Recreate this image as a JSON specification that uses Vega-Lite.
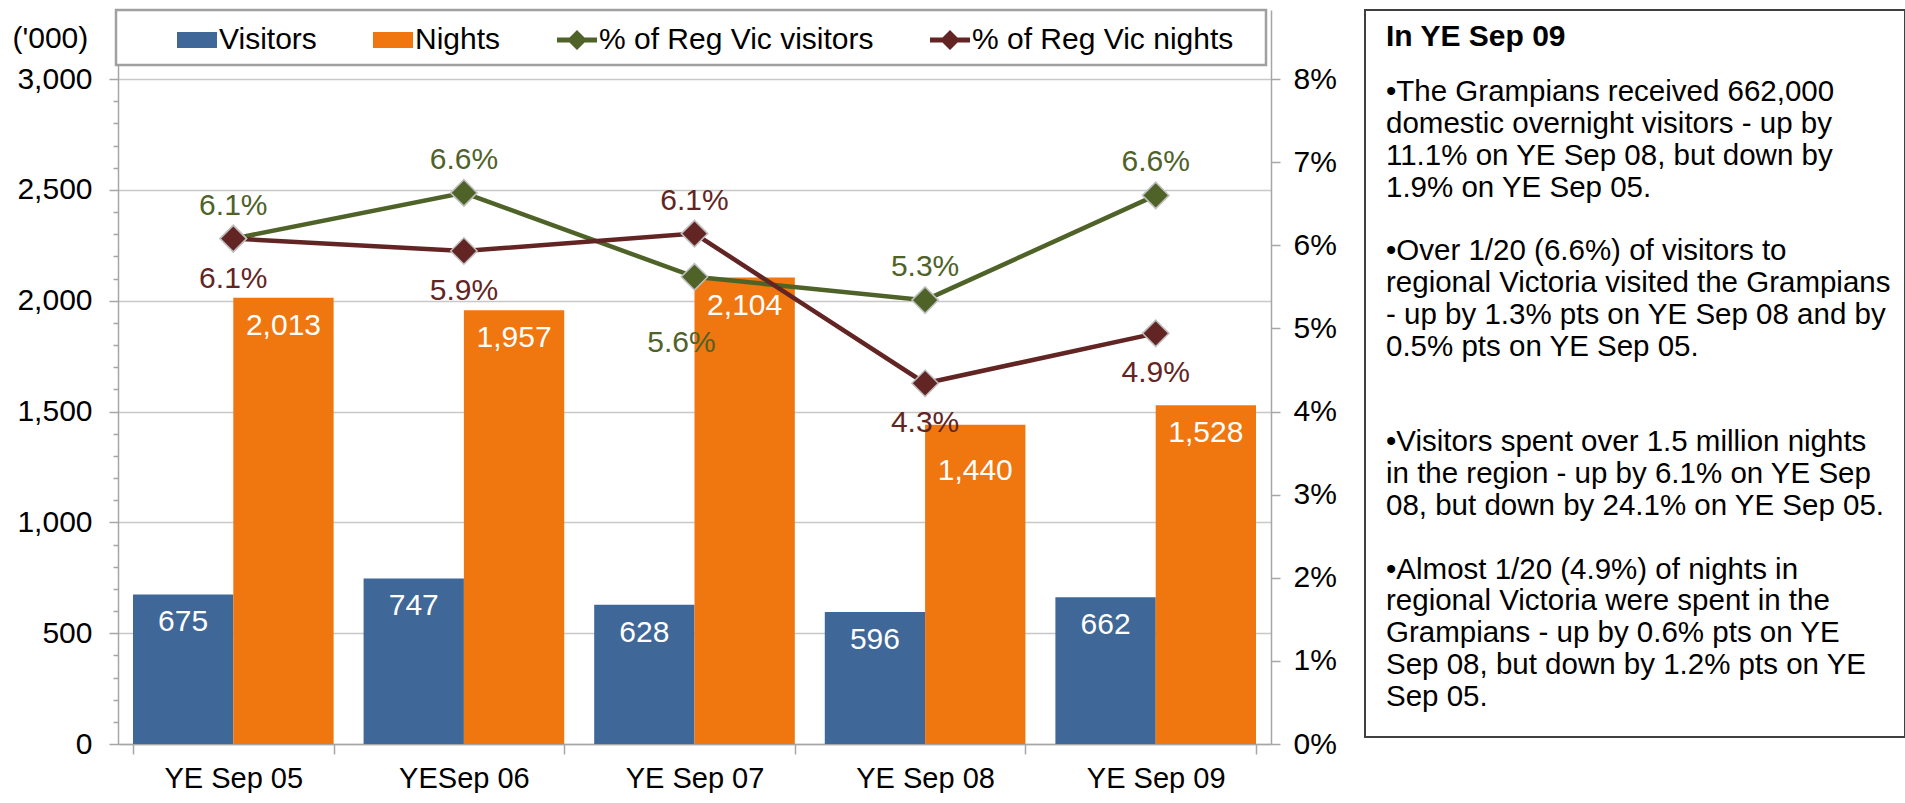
{
  "$schema": "https://vega.github.io/schema/vega-lite/v6.json",
  "padding": {"left": 12, "top": 8, "right": 0, "bottom": 0},
  "spacing": 27,
  "config": {
    "font": "Liberation Sans",
    "view": {"stroke": null},
    "axis": {
      "labelFont": "Liberation Sans", "labelFontSize": 30, "labelColor": "#000000",
      "titleFont": "Liberation Sans", "titleFontSize": 30, "titleFontWeight": "normal", "titleColor": "#000000",
      "domainColor": "#a6a6a6", "domainWidth": 1.5, "tickColor": "#a6a6a6", "tickWidth": 1.5,
      "gridColor": "#c8c8c8", "gridWidth": 1.5
    },
    "legend": {"strokeWidth": 2.5},
    "text": {"font": "Liberation Sans"}
  },
  "datasets": {
    "bars": [
      {"year": "YE Sep 05", "series": "Visitors", "value": 675},
      {"year": "YE Sep 05", "series": "Nights", "value": 2013},
      {"year": "YESep 06", "series": "Visitors", "value": 747},
      {"year": "YESep 06", "series": "Nights", "value": 1957},
      {"year": "YE Sep 07", "series": "Visitors", "value": 628},
      {"year": "YE Sep 07", "series": "Nights", "value": 2104},
      {"year": "YE Sep 08", "series": "Visitors", "value": 596},
      {"year": "YE Sep 08", "series": "Nights", "value": 1440},
      {"year": "YE Sep 09", "series": "Visitors", "value": 662},
      {"year": "YE Sep 09", "series": "Nights", "value": 1528}
    ],
    "lines": [
      {"year": "YE Sep 05", "series": "% of Reg Vic visitors", "pct": 0.0608},
      {"year": "YESep 06", "series": "% of Reg Vic visitors", "pct": 0.0663},
      {"year": "YE Sep 07", "series": "% of Reg Vic visitors", "pct": 0.0562},
      {"year": "YE Sep 08", "series": "% of Reg Vic visitors", "pct": 0.0534},
      {"year": "YE Sep 09", "series": "% of Reg Vic visitors", "pct": 0.0660},
      {"year": "YE Sep 05", "series": "% of Reg Vic nights", "pct": 0.0608},
      {"year": "YESep 06", "series": "% of Reg Vic nights", "pct": 0.0593},
      {"year": "YE Sep 07", "series": "% of Reg Vic nights", "pct": 0.0614},
      {"year": "YE Sep 08", "series": "% of Reg Vic nights", "pct": 0.0434},
      {"year": "YE Sep 09", "series": "% of Reg Vic nights", "pct": 0.0494}
    ],
    "note": [
      {"line": 0, "text": "In YE Sep 09"},
      {"line": 2, "text": "•The Grampians received 662,000"},
      {"line": 3, "text": "domestic overnight visitors - up by"},
      {"line": 4, "text": "11.1% on YE Sep 08, but down by"},
      {"line": 5, "text": "1.9% on YE Sep 05."},
      {"line": 7, "text": "•Over 1/20 (6.6%) of visitors to"},
      {"line": 8, "text": "regional Victoria visited the Grampians"},
      {"line": 9, "text": "- up by 1.3% pts on YE Sep 08 and by"},
      {"line": 10, "text": "0.5% pts on YE Sep 05."},
      {"line": 13, "text": "•Visitors spent over 1.5 million nights"},
      {"line": 14, "text": "in the region - up by 6.1% on YE Sep"},
      {"line": 15, "text": "08, but down by 24.1% on YE Sep 05."},
      {"line": 17, "text": "•Almost 1/20 (4.9%) of nights in"},
      {"line": 18, "text": "regional Victoria were spent in the"},
      {"line": 19, "text": "Grampians - up by 0.6% pts on YE"},
      {"line": 20, "text": "Sep 08, but down by 1.2% pts on YE"},
      {"line": 21, "text": "Sep 05."}
    ]
  },
  "hconcat": [
    {
      "width": 1153,
      "height": 734,
      "layer": [
        {
          "data": {"name": "bars"},
          "encoding": {
            "x": {
              "field": "year", "type": "nominal",
              "sort": ["YE Sep 05", "YESep 06", "YE Sep 07", "YE Sep 08", "YE Sep 09"],
              "scale": {"paddingInner": 0.13, "paddingOuter": 0.065},
              "axis": {"title": null, "labelAngle": 0, "tickBand": "extent", "tickSize": 10, "labelPadding": 10, "grid": false, "labelFontSize": 29}
            },
            "xOffset": {"field": "series", "type": "nominal", "sort": ["Visitors", "Nights"], "scale": {"paddingInner": 0, "paddingOuter": 0}},
            "y": {
              "field": "value", "type": "quantitative",
              "scale": {"domain": [0, 3311.28], "nice": false},
              "axis": {
                "title": "('000)", "titleAngle": 0, "titleAlign": "left", "titleBaseline": "middle",
                "titleX": -106, "titleY": 28,
                "values": [0,100,200,300,400,500,600,700,800,900,1000,1100,1200,1300,1400,1500,1600,1700,1800,1900,2000,2100,2200,2300,2400,2500,2600,2700,2800,2900,3000],
                "labelExpr": "datum.value % 500 === 0 ? format(datum.value, ',') : ''",
                "tickSize": {"condition": {"test": "datum.value % 500 === 0", "value": 9}, "value": 5},
                "gridOpacity": {"condition": {"test": "datum.value % 500 === 0", "value": 1}, "value": 0},
                "labelPadding": 17
              }
            }
          },
          "layer": [
            {
              "mark": {"type": "bar"},
              "encoding": {
                "fill": {
                  "field": "series", "type": "nominal",
                  "scale": {
                    "domain": ["Visitors", "Nights", "% of Reg Vic visitors", "% of Reg Vic nights"],
                    "range": ["#3F6797", "#F0760F", "#4F6228", "#632523"]
                  },
                  "legend": {
                    "orient": "none", "legendX": -2, "legendY": 0, "direction": "horizontal",
                    "title": "\u2800\u2800", "titleOrient": "left", "titleAngle": 0, "titleFontSize": 30, "titlePadding": 7,
                    "titleFont": "Liberation Sans",
                    "symbolSize": 1600, "symbolStrokeWidth": 0, "symbolOpacity": 1,
                    "labelFont": "Liberation Sans", "labelFontSize": 30, "labelColor": "#000000", "labelLimit": 500, "labelOffset": 2,
                    "labelExpr": "datum.label === '% of Reg Vic nights' ? datum.label + '\u2800' : datum.label",
                    "columnPadding": 56, "padding": 10,
                    "strokeColor": "#a0a0a0", "fillColor": "#ffffff"
                  }
                }
              }
            },
            {
              "transform": [{"filter": "!(datum.series === 'Nights' && datum.year === 'YE Sep 08')"}],
              "mark": {"type": "text", "baseline": "middle", "dy": 28, "fill": "#ffffff", "fontSize": 30},
              "encoding": {"text": {"field": "value", "type": "quantitative", "format": ","}}
            },
            {
              "transform": [{"filter": "datum.series === 'Nights' && datum.year === 'YE Sep 08'"}],
              "mark": {"type": "text", "baseline": "middle", "dy": 46, "fill": "#ffffff", "fontSize": 30},
              "encoding": {"text": {"field": "value", "type": "quantitative", "format": ","}}
            },
            {
              "mark": {"type": "point", "filled": true, "size": 0, "opacity": 1},
              "encoding": {
                "fill": {"field": "series", "type": "nominal"},
                "shape": {
                  "field": "series", "type": "nominal",
                  "scale": {
                    "domain": ["Visitors", "Nights", "% of Reg Vic visitors", "% of Reg Vic nights"],
                    "range": [
                      "M-1,-0.4L1,-0.4L1,0.4L-1,0.4Z",
                      "M-1,-0.4L1,-0.4L1,0.4L-1,0.4Z",
                      "M-1,-0.12L1,-0.12L1,0.12L-1,0.12ZM0,-0.5L0.5,0L0,0.5L-0.5,0Z",
                      "M-1,-0.12L1,-0.12L1,0.12L-1,0.12ZM0,-0.5L0.5,0L0,0.5L-0.5,0Z"
                    ]
                  }
                }
              }
            }
          ]
        },
        {
          "data": {"name": "lines"},
          "encoding": {
            "x": {"field": "year", "type": "nominal", "sort": ["YE Sep 05", "YESep 06", "YE Sep 07", "YE Sep 08", "YE Sep 09"]},
            "y": {
              "field": "pct", "type": "quantitative",
              "scale": {"domain": [0, 0.088301], "nice": false},
              "axis": {"orient": "right", "title": null, "values": [0, 0.01, 0.02, 0.03, 0.04, 0.05, 0.06, 0.07, 0.08], "format": ".0%", "tickSize": 9, "labelPadding": 13, "grid": false}
            }
          },
          "layer": [
            {
              "mark": {"type": "line", "strokeWidth": 4.5},
              "encoding": {
                "stroke": {"field": "series", "type": "nominal", "scale": {"domain": ["% of Reg Vic visitors", "% of Reg Vic nights"], "range": ["#4F6228", "#632523"]}, "legend": null}
              }
            },
            {
              "mark": {"type": "point", "shape": "diamond", "filled": true, "size": 700, "stroke": "#bfbfbf", "strokeWidth": 1.5, "opacity": 1},
              "encoding": {
                "color": {"field": "series", "type": "nominal", "scale": {"domain": ["% of Reg Vic visitors", "% of Reg Vic nights"], "range": ["#4F6228", "#632523"]}, "legend": null}
              }
            },
            {
              "transform": [{"filter": "(datum.series === '% of Reg Vic visitors' && datum.year !== 'YE Sep 07') || (datum.series === '% of Reg Vic nights' && datum.year === 'YE Sep 07')"}],
              "mark": {"type": "text", "baseline": "middle", "dy": -33, "fontSize": 30},
              "encoding": {
                "text": {"field": "pct", "type": "quantitative", "format": ".1%"},
                "color": {"field": "series", "type": "nominal", "legend": null}
              }
            },
            {
              "transform": [{"filter": "datum.series === '% of Reg Vic nights' && datum.year !== 'YE Sep 07'"}],
              "mark": {"type": "text", "baseline": "middle", "dy": 40, "fontSize": 30},
              "encoding": {
                "text": {"field": "pct", "type": "quantitative", "format": ".1%"},
                "color": {"field": "series", "type": "nominal", "legend": null}
              }
            },
            {
              "transform": [{"filter": "datum.series === '% of Reg Vic visitors' && datum.year === 'YE Sep 07'"}],
              "mark": {"type": "text", "baseline": "middle", "dy": 66, "dx": -13, "fontSize": 30},
              "encoding": {
                "text": {"field": "pct", "type": "quantitative", "format": ".1%"},
                "color": {"field": "series", "type": "nominal", "legend": null}
              }
            }
          ]
        }
      ],
      "resolve": {"scale": {"y": "independent"}}
    },
    {
      "width": 540,
      "height": 727,
      "view": {"stroke": "#404040", "strokeWidth": 2},
      "data": {"name": "note"},
      "encoding": {
        "x": {"datum": 0, "type": "quantitative", "scale": {"domain": [0, 1]}, "axis": null},
        "y": {"field": "line", "type": "quantitative", "scale": {"domain": [-0.575, 22.256], "reverse": true, "nice": false, "zero": false}, "axis": null},
        "text": {"field": "text", "type": "nominal"}
      },
      "layer": [
        {
          "transform": [{"filter": "datum.line === 0"}],
          "mark": {"type": "text", "align": "left", "baseline": "middle", "dx": 21, "dy": 9, "fontSize": 30, "fontWeight": "bold", "color": "#000000"}
        },
        {
          "transform": [{"filter": "datum.line > 0"}],
          "mark": {"type": "text", "align": "left", "baseline": "middle", "dx": 21, "fontSize": 29.5, "color": "#000000"}
        }
      ]
    }
  ]
}
